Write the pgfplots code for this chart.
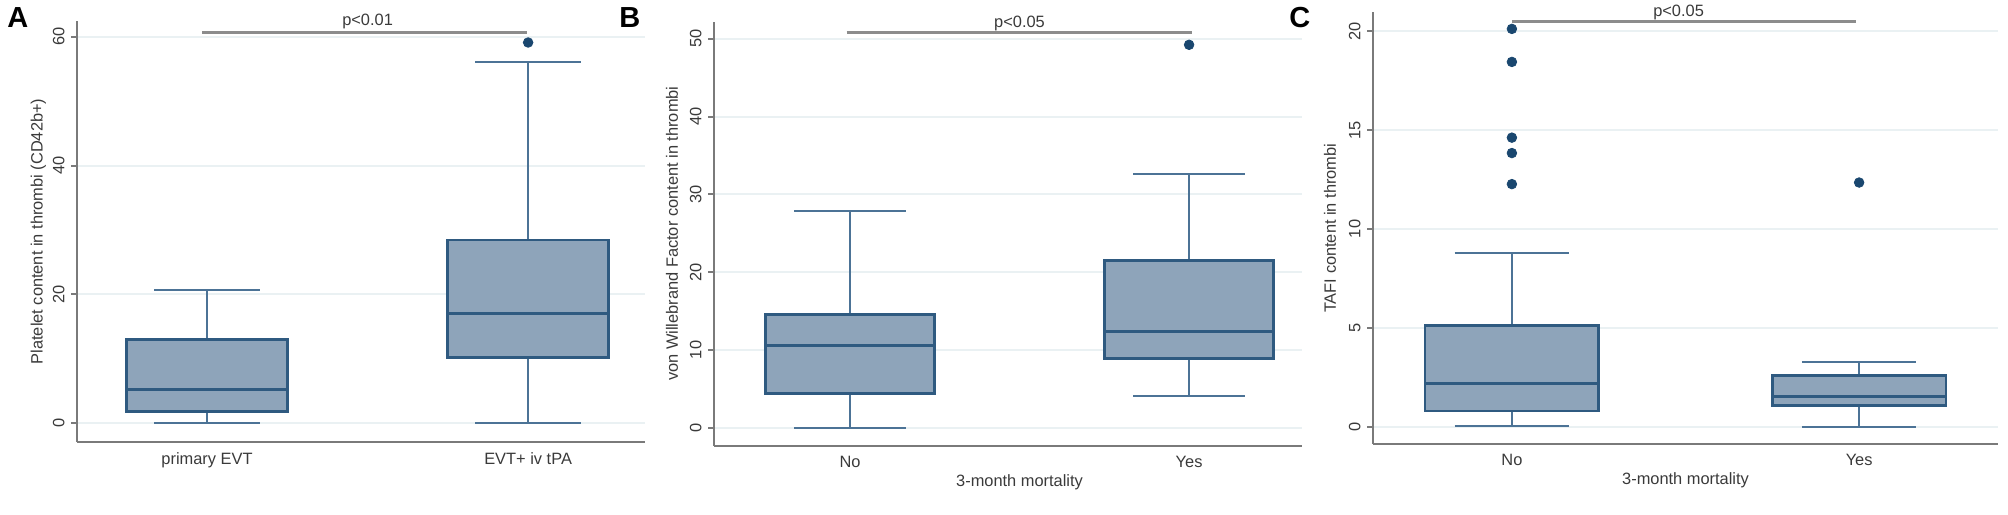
\documentclass[border=0pt]{standalone}
\usepackage{fontspec}
\setmainfont{Liberation Sans}
\usepackage{pgfplots}
\pgfplotsset{compat=1.18}
\usepgfplotslibrary{statistics}

\definecolor{boxfill}{HTML}{8EA4BA}
\definecolor{boxedge}{HTML}{2F5A80}
\definecolor{whisk}{HTML}{4C7396}
\definecolor{dot}{HTML}{1A476F}
\definecolor{gridc}{HTML}{EAF1F3}
\definecolor{axisc}{HTML}{7A7A7A}
\definecolor{txt}{HTML}{3A3A3A}
\definecolor{pline}{HTML}{8C8C8C}

\newcommand\lblfont{\fontsize{8.2bp}{9.5bp}\selectfont}
\newcommand\letterfont{\fontsize{14.5bp}{16bp}\selectfont\bfseries}

\pgfplotsset{
  panel/.style={
    scale only axis,
    anchor=south west,
    axis x line=bottom, axis y line=left,
    axis line style={-, draw=axisc, line width=1.2bp},
    tick align=outside, major tick length=3bp,
    xtick={1,2}, xtick style={draw=none},
    ytick style={draw=axisc, line width=1bp},
    ymajorgrids, grid style={draw=gridc, line width=1bp},
    font=\lblfont,
    tick label style={font=\lblfont, text=txt},
    /pgf/number format/assume math mode=true,
    xticklabel style={anchor=north, inner sep=0pt, yshift=-2bp},
    yticklabel style={xshift=-3bp, rotate=90, anchor=south, inner sep=0pt},
    label style={text=txt, inner sep=0pt},
    clip=false,
    boxplot/draw direction=y,
    boxplot/every box/.style={draw=boxedge, fill=boxfill, line width=1.4bp},
    boxplot/every whisker/.style={draw=whisk, line width=1bp},
    boxplot/every median/.style={draw=boxedge, line width=1.5bp},
    boxplot/box extend=0.5,
    boxplot/whisker extend=0.33,
  },
  bx/.style={mark=*, mark size=2.4bp, mark options={draw=dot, fill=dot}},
  pl/.style={draw=pline, line width=1.5bp, mark=none},
}

\begin{document}
\begin{tikzpicture}
\useasboundingbox (0,0) rectangle (1004bp,257.5bp);

% panel letters
\node[anchor=base west, inner sep=0pt, font=\letterfont] at (3.5bp,243.5bp) {A};
\node[anchor=base west, inner sep=0pt, font=\letterfont] at (309.5bp,243.5bp) {B};
\node[anchor=base west, inner sep=0pt, font=\letterfont] at (644.5bp,243.5bp) {C};

% A: platelets
\begin{axis}[panel, at={(38.5bp,36.5bp)}, width=284bp, height=210.5bp,
  xmin=0.595, xmax=2.364, ymin=-2.9, ymax=62.44, ytick={0,20,40,60},
  xticklabels={primary EVT, EVT+ iv tPA},
  ylabel={Platelet content in thrombi (CD42b+)},
  ylabel style={at={(axis description cs:-0.0678,0.5)}, anchor=center}]
\addplot[bx, boxplot prepared={draw position=1, lower whisker=0, lower quartile=1.8,
  median=5.3, upper quartile=13.0, upper whisker=20.7}] coordinates {};
\addplot[bx, boxplot prepared={draw position=2, lower whisker=0, lower quartile=10.25,
  median=17.0, upper quartile=28.45, upper whisker=56.0}]
  table[row sep=\\, y index=0] {v\\ 59.1\\};
\addplot[pl] coordinates {(0.985,60.7) (1.996,60.7)};
\node[anchor=base, inner sep=0pt, text=txt, font=\lblfont, yshift=3.2bp] at (axis cs:1.5,60.7) {p<0.01};
\end{axis}

% B: von Willebrand factor
\begin{axis}[panel, at={(357bp,34.65bp)}, width=294bp, height=212bp,
  xmin=0.599, xmax=2.333, ymin=-2.32, ymax=52.2, ytick={0,10,...,50},
  xticklabels={No, Yes},
  xlabel={3-month mortality},
  xlabel style={at={(axis description cs:0.5196,0)}, anchor=north, yshift=-14.5bp},
  ylabel={von Willebrand Factor content in thrombi},
  ylabel style={at={(axis description cs:-0.0714,0.5)}, anchor=center}]
\addplot[bx, boxplot prepared={draw position=1, lower whisker=0, lower quartile=4.37,
  median=10.51, upper quartile=14.54, upper whisker=27.92}] coordinates {};
\addplot[bx, boxplot prepared={draw position=2, lower whisker=4.12, lower quartile=8.92,
  median=12.35, upper quartile=21.53, upper whisker=32.68}]
  table[row sep=\\, y index=0] {v\\ 49.23\\};
\addplot[pl] coordinates {(0.99,50.77) (2.01,50.77)};
\node[anchor=base, inner sep=0pt, text=txt, font=\lblfont, yshift=2.5bp] at (axis cs:1.5,50.77) {p<0.05};
\end{axis}

% C: TAFI
\begin{axis}[panel, at={(686.5bp,35.5bp)}, width=312.5bp, height=215.75bp,
  xmin=0.6, xmax=2.4, ymin=-0.875, ymax=20.95, ytick={0,5,...,20},
  xticklabels={No, Yes},
  xlabel={3-month mortality},
  xlabel style={at={(axis description cs:0.5,0)}, anchor=north, yshift=-14bp},
  ylabel={TAFI content in thrombi},
  ylabel style={at={(axis description cs:-0.0688,0.5)}, anchor=center}]
\addplot[bx, boxplot prepared={draw position=1, lower whisker=0.05, lower quartile=0.79,
  median=2.16, upper quartile=5.10, upper whisker=8.81}]
  table[row sep=\\, y index=0] {v\\ 20.12\\ 18.45\\ 14.62\\ 13.84\\ 12.27\\};
\addplot[bx, boxplot prepared={draw position=2, lower whisker=0, lower quartile=1.06,
  median=1.55, upper quartile=2.58, upper whisker=3.27}]
  table[row sep=\\, y index=0] {v\\ 12.35\\};
\addplot[pl] coordinates {(1.0,20.47) (1.99,20.47)};
\node[anchor=base, inner sep=0pt, text=txt, font=\lblfont, yshift=2.5bp] at (axis cs:1.48,20.47) {p<0.05};
\end{axis}
\end{tikzpicture}
\end{document}
